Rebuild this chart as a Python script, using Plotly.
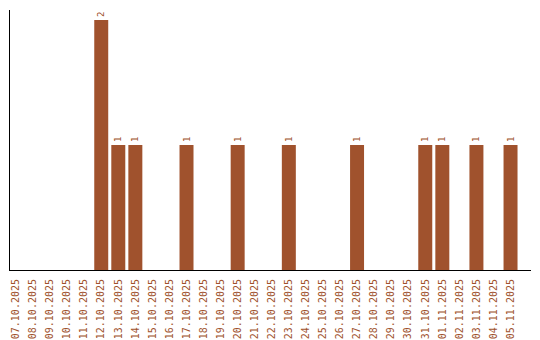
import plotly.graph_objects as go

dates = ["07.10.2025", "08.10.2025", "09.10.2025", "10.10.2025", "11.10.2025",
         "12.10.2025", "13.10.2025", "14.10.2025", "15.10.2025", "16.10.2025",
         "17.10.2025", "18.10.2025", "19.10.2025", "20.10.2025", "21.10.2025",
         "22.10.2025", "23.10.2025", "24.10.2025", "25.10.2025", "26.10.2025",
         "27.10.2025", "28.10.2025", "29.10.2025", "30.10.2025", "31.10.2025",
         "01.11.2025", "02.11.2025", "03.11.2025", "04.11.2025", "05.11.2025"]
counts = [0, 0, 0, 0, 0,
          2, 1, 1, 0, 0,
          1, 0, 0, 1, 0,
          0, 1, 0, 0, 0,
          1, 0, 0, 0, 1,
          1, 0, 1, 0, 1]
labels = [str(v) if v else "" for v in counts]

color = "#A0522D"
fig = go.Figure(go.Bar(
    x=dates, y=counts, marker_color=color, marker_line_width=0,
    text=labels, textposition="outside", textangle=-90,
    textfont=dict(family="DejaVu Sans Mono", size=9, color=color),
    cliponaxis=False,
))
fig.update_layout(
    width=540, height=340,
    margin=dict(l=10, r=9, t=10, b=70, autoexpand=False),
    paper_bgcolor="white", plot_bgcolor="white",
    bargap=0.18, showlegend=False,
    font=dict(family="DejaVu Sans Mono", size=10, color=color),
    uniformtext=dict(minsize=9, mode="show"),
)
fig.update_xaxes(type="category", categoryorder="array", categoryarray=dates,
                 range=[-0.35, 30.2], automargin=False,
                 tickangle=-90, showline=True, linecolor="black", linewidth=1,
                 ticks="outside", ticklen=4, tickcolor="white", showgrid=False,
                 tickfont=dict(size=10, color=color))
fig.update_yaxes(range=[0, 2.08], automargin=False, showline=True, linecolor="black", linewidth=1,
                 showticklabels=False, ticks="", showgrid=False, zeroline=False)
fig.write_html("out.html")
